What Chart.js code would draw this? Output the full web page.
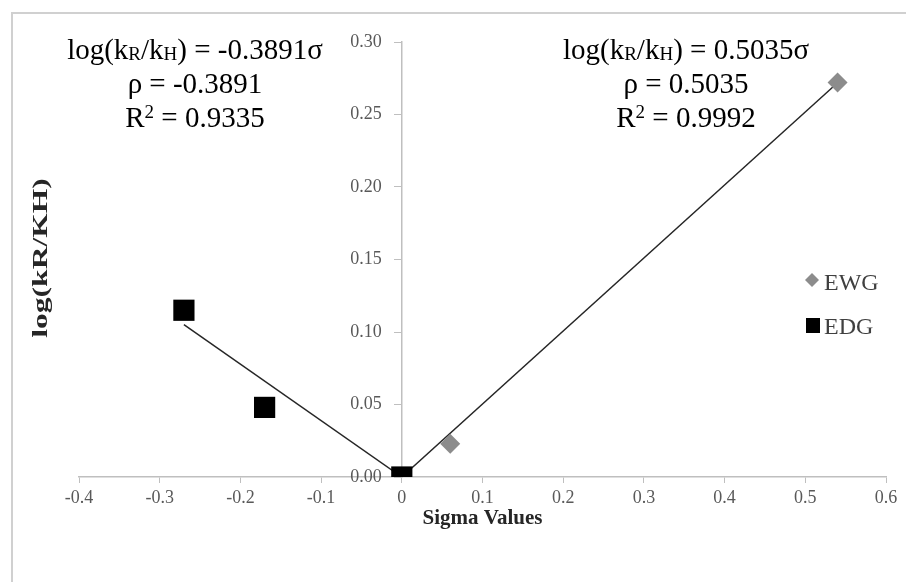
<!DOCTYPE html>
<html>
<head>
<meta charset="utf-8">
<script src="https://cdn.jsdelivr.net/npm/chart.js@4.4.0/dist/chart.umd.min.js"></script>
<style>
html, body { margin: 0; padding: 0; background: #fff; overflow: hidden; }
#wrap { position: relative; width: 906px; height: 582px; overflow: hidden; }
#frame { position: absolute; left: 11px; top: 12px; width: 1000px; height: 1000px; border-left: 2px solid #d0d0d0; border-top: 2px solid #d0d0d0; }
canvas { position: absolute; left: 0; top: 0; }
</style>
</head>
<body>
<div id="wrap">
  <div id="frame"></div>
  <canvas id="mychart" width="906" height="582"></canvas>
</div>
<script>
// data
var seriesNames = ['EWG', 'EDG'];
var ewgX = [0, 0.06, 0.54];
var ewgY = [0, 0.023, 0.272];
var edgX = [-0.27, -0.17, 0];
var edgY = [0.115, 0.048, 0];

// trendline fits shown on the chart
var ewgSlope = 0.5035;
var edgSlope = -0.3891;
var ewgR2 = 0.9992;
var edgR2 = 0.9335;

var xTicks = [-0.4, -0.3, -0.2, -0.1, 0, 0.1, 0.2, 0.3, 0.4, 0.5, 0.6];
var xTickLabels = ['-0.4', '-0.3', '-0.2', '-0.1', '0', '0.1', '0.2', '0.3', '0.4', '0.5', '0.6'];
var yTicks = [0, 0.05, 0.10, 0.15, 0.20, 0.25, 0.30];
var yTickLabels = ['0.00', '0.05', '0.10', '0.15', '0.20', '0.25', '0.30'];

var serif = '"Liberation Serif", "Times New Roman", serif';
var ewgColor = '#8c8c8c';
var edgColor = '#000000';
var axisColor = '#bfbfbf';

function toPoints(xs, ys) {
    var pts = [];
    for (var i = 0; i < xs.length; i++) {
        pts.push({ x: xs[i], y: ys[i] });
    }
    return pts;
}

// trendline through the origin, across the x range of the series
function trendPoints(xs, slope) {
    var lo = Math.min.apply(null, xs);
    var hi = Math.max.apply(null, xs);
    return [{ x: lo, y: slope * lo }, { x: hi, y: slope * hi }];
}

// draw text made of parts: [text, 0 normal | 1 subscript | 2 superscript]
function drawRich(ctx, parts, cx, cy, size) {
    var small = Math.round(size * 0.66);
    var total = 0;
    var widths = [];
    for (var i = 0; i < parts.length; i++) {
        ctx.font = (parts[i][1] ? small : size) + 'px ' + serif;
        var w = ctx.measureText(parts[i][0]).width;
        widths.push(w);
        total += w;
    }
    var x = cx - total / 2;
    ctx.textAlign = 'left';
    ctx.textBaseline = 'alphabetic';
    var base = cy + size * 0.32;
    for (var j = 0; j < parts.length; j++) {
        var mode = parts[j][1];
        ctx.font = (mode ? small : size) + 'px ' + serif;
        var y = base;
        if (mode == 1) y = base + size * 0.04;
        if (mode == 2) y = base - size * 0.33;
        ctx.fillText(parts[j][0], x, y);
        x += widths[j];
    }
}

function eqBlock(ctx, slope, r2, cx, top) {
    var s = slope.toFixed(4);
    ctx.fillStyle = '#000';
    drawRich(ctx, [['log(k', 0], ['R', 1], ['/k', 0], ['H', 1], [') = ' + s + 'σ', 0]], cx, top, 29);
    drawRich(ctx, [['ρ = ' + s, 0]], cx, top + 34, 29);
    drawRich(ctx, [['R', 0], ['2', 2], [' = ' + r2.toFixed(4), 0]], cx, top + 68, 29);
}

var extras = {
    id: 'extras',
    afterDraw: function (chart) {
        var ctx = chart.ctx;
        var ys = chart.scales.y;
        var axisX = chart.scales.x.getPixelForValue(0);
        ctx.save();

        // y tick labels, set off to the left of the centred axis
        ctx.fillStyle = '#595959';
        ctx.font = '18px ' + serif;
        ctx.textAlign = 'right';
        ctx.textBaseline = 'middle';
        for (var i = 0; i < yTicks.length; i++) {
            ctx.fillText(yTickLabels[i], axisX - 20, ys.getPixelForValue(yTicks[i]));
        }

        // equations
        eqBlock(ctx, edgSlope, edgR2, 195, 50);
        eqBlock(ctx, ewgSlope, ewgR2, 686, 50);

        // legend
        ctx.fillStyle = ewgColor;
        ctx.beginPath();
        ctx.moveTo(812, 273); ctx.lineTo(819, 280); ctx.lineTo(812, 287); ctx.lineTo(805, 280);
        ctx.closePath();
        ctx.fill();
        ctx.fillStyle = edgColor;
        ctx.fillRect(806, 318, 14, 15);
        ctx.fillStyle = '#404040';
        ctx.font = '24px ' + serif;
        ctx.textAlign = 'left';
        ctx.textBaseline = 'middle';
        ctx.fillText(seriesNames[0], 824, 284);
        ctx.fillText(seriesNames[1], 824, 328);

        // y axis title, kept at the far left
        ctx.translate(42, 258);
        ctx.rotate(-Math.PI / 2);
        ctx.scale(1.5, 1);
        ctx.fillStyle = '#262626';
        ctx.font = 'bold 21px ' + serif;
        ctx.textAlign = 'center';
        ctx.textBaseline = 'middle';
        ctx.fillText('log(kR/KH)', 0, 0);
        ctx.restore();
    }
};

var ctx = document.getElementById('mychart').getContext('2d');

var mychart = new Chart(ctx, {
    type: 'scatter',
    data: {
        datasets: [{
            label: seriesNames[0],
            data: toPoints(ewgX, ewgY),
            pointStyle: 'rectRot',
            pointRadius: 10,
            pointHoverRadius: 10,
            backgroundColor: ewgColor,
            borderColor: ewgColor,
            borderWidth: 0,
            order: 1
        }, {
            label: seriesNames[1],
            data: toPoints(edgX, edgY),
            pointStyle: 'rect',
            pointRadius: 15,
            pointHoverRadius: 15,
            backgroundColor: edgColor,
            borderColor: edgColor,
            borderWidth: 0,
            order: 0
        }, {
            type: 'line',
            label: 'EWG trend',
            data: trendPoints(ewgX, ewgSlope),
            borderColor: '#262626',
            borderWidth: 1.5,
            pointRadius: 0,
            fill: false,
            order: 2
        }, {
            type: 'line',
            label: 'EDG trend',
            data: trendPoints(edgX, edgSlope),
            borderColor: '#262626',
            borderWidth: 1.5,
            pointRadius: 0,
            fill: false,
            order: 2
        }]
    },
    options: {
        responsive: false,
        animation: false,
        layout: {
            padding: { left: 79, right: 20, top: 42, bottom: 53 }
        },
        scales: {
            x: {
                type: 'linear',
                position: 'bottom',
                min: -0.4,
                max: 0.6,
                afterBuildTicks: function (axis) {
                    axis.ticks = xTicks.map(function (v) { return { value: v }; });
                },
                grid: { drawOnChartArea: false, color: axisColor, tickLength: 6 },
                border: { color: axisColor, width: 1.5 },
                ticks: {
                    color: '#595959',
                    font: { family: serif, size: 18, lineHeight: 1 },
                    padding: 6,
                    callback: function (value, index) { return xTickLabels[index]; }
                },
                title: {
                    display: true,
                    text: 'Sigma Values',
                    color: '#262626',
                    font: { family: serif, size: 21, weight: 'bold', lineHeight: 1 },
                    padding: { top: -5, bottom: 0 }
                }
            },
            y: {
                type: 'linear',
                position: { x: 0 },
                min: 0,
                max: 0.3,
                afterBuildTicks: function (axis) {
                    axis.ticks = yTicks.map(function (v) { return { value: v }; });
                },
                grid: { drawOnChartArea: false, color: axisColor, tickLength: 7 },
                border: { color: axisColor, width: 1.5 },
                ticks: { display: false }
            }
        },
        plugins: {
            legend: { display: false },
            tooltip: { enabled: false }
        }
    },
    plugins: [extras]
});
</script>
</body>
</html>
